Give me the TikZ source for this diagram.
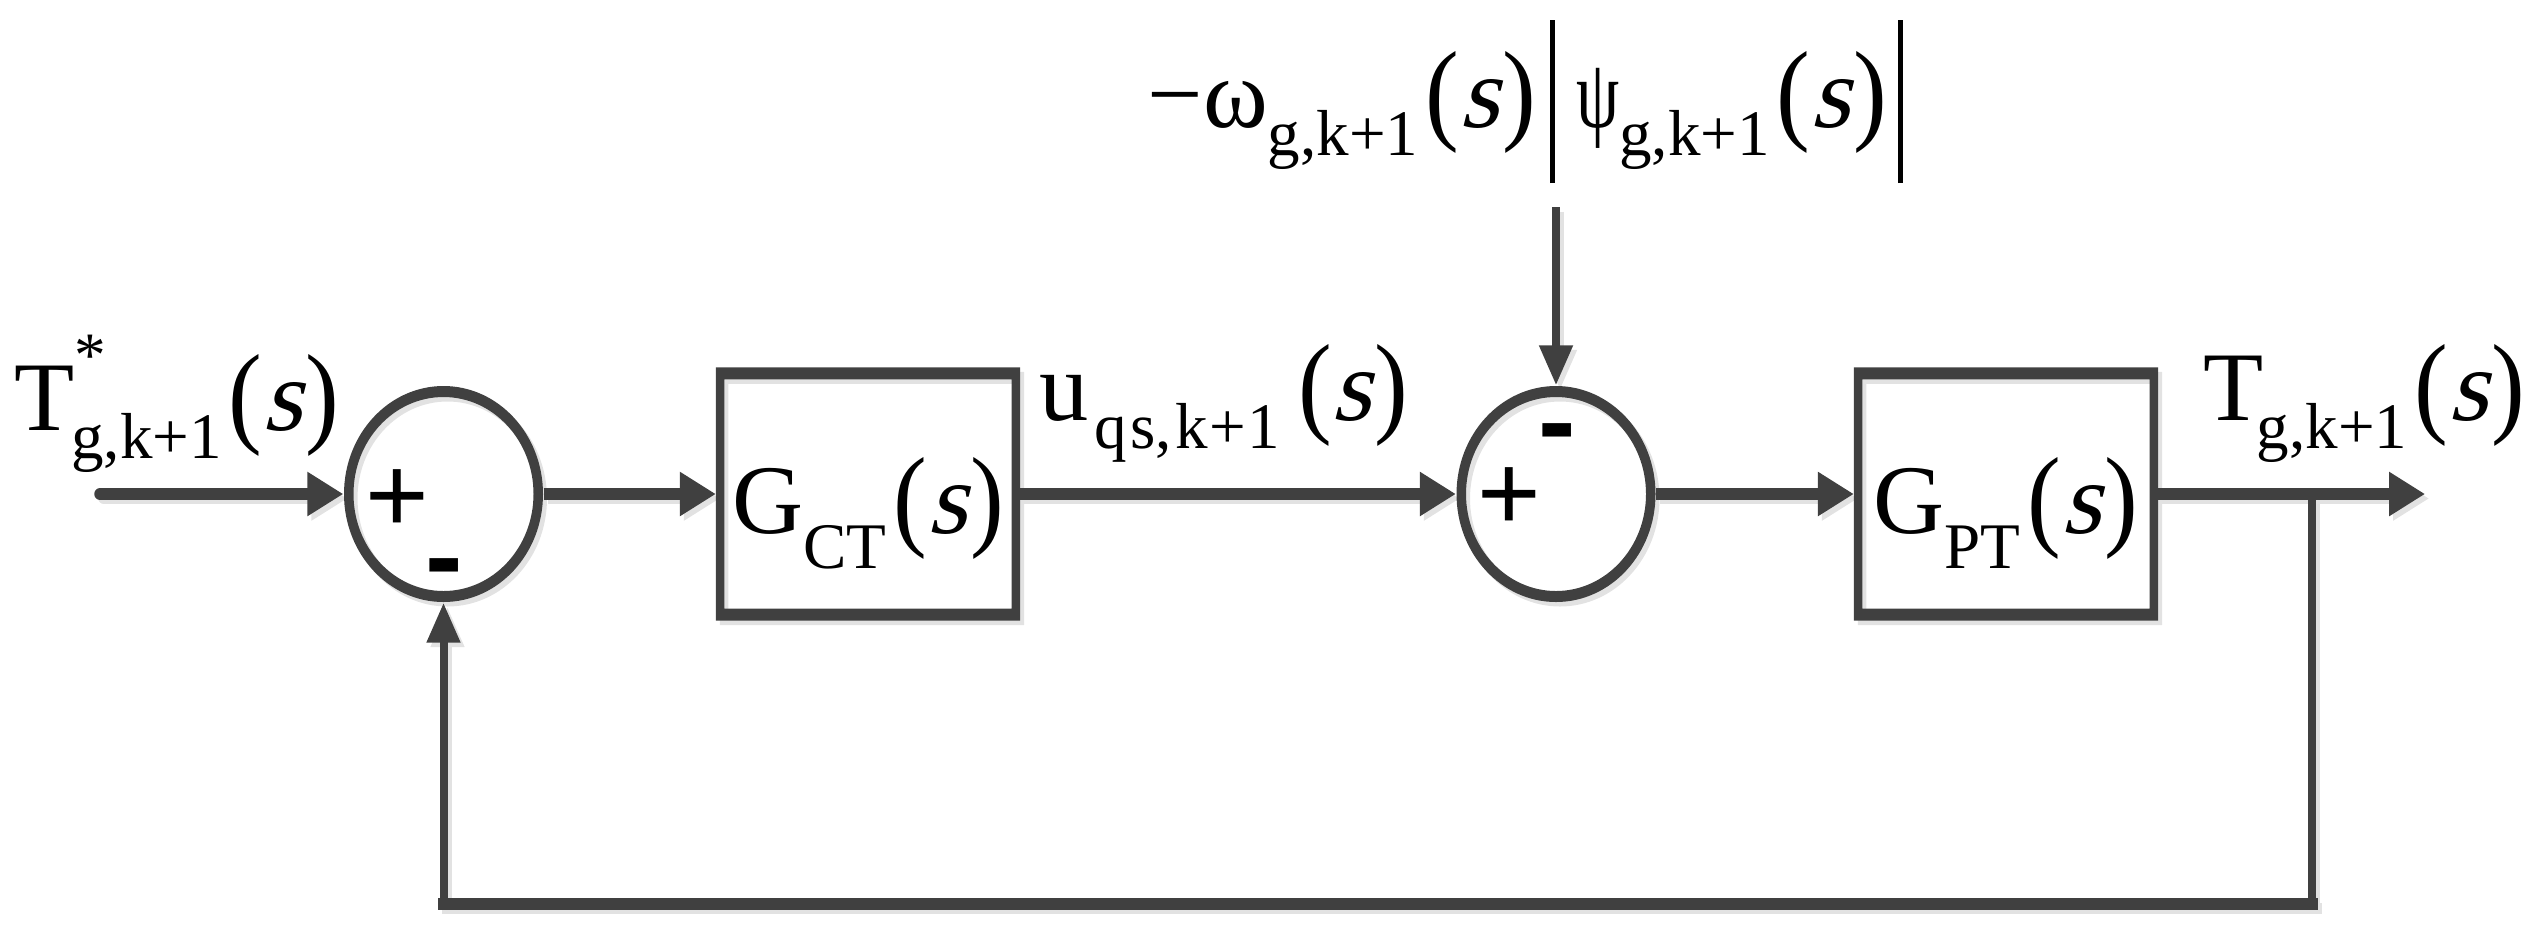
\documentclass[tikz,border=0pt]{standalone}
\usepackage{graphicx}
\usepackage{fontspec}
\setmainfont{Liberation Serif}
\newfontfamily\sitfont{Liberation Serif}[FakeSlant=0.25]
\newfontfamily\signfont{Liberation Sans}
\usetikzlibrary{arrows.meta,shapes.geometric,calc}
\definecolor{lg}{HTML}{404040}
\definecolor{sh}{HTML}{E2E2E2}
\newcommand{\MyM}{\fontsize{28}{28}\selectfont}
\newcommand{\MySb}[1]{\raisebox{-8pt}{\fontsize{18.5}{18.5}\selectfont #1}}
\newcommand{\MySbL}[1]{\raisebox{-10pt}{\fontsize{18.5}{18.5}\selectfont #1}}
\newcommand{\MyPr}[1]{\raisebox{-0.8pt}{\scalebox{0.9}[1]{\fontsize{32}{32}\selectfont #1}}}
\newcommand{\MyPs}{\kern2pt\MyPr{(}{\sitfont\fontsize{29}{29}\selectfont s}\kern1pt\MyPr{)}}
\newcommand{\MyVBar}[2]{\kern#1\rule[-16pt]{1.4pt}{46.4pt}\kern#2}
\newcommand{\ellring}[2]{\fill[#2, even odd rule] (#1.center) ellipse [x radius=0.995, y radius=1.08] (#1.center) ellipse [x radius=0.90, y radius=0.97];}
\newcommand{\boxring}[2]{\fill[#2, even odd rule] (#1.south west) rectangle (#1.north east) ([shift={(0.085,0.12)}]#1.south west) rectangle ([shift={(-0.085,-0.12)}]#1.north east);}
\newcommand{\drawall}[1]{%
  \ellring{s1}{#1}\ellring{s2}{#1}\boxring{b1}{#1}\boxring{b2}{#1}%
  \draw[harr, draw=#1, fill=#1, line cap=round] (in) -- (s1.west);
  \draw[harr, draw=#1, fill=#1] (s1.east) -- (b1.west);
  \draw[harr, draw=#1, fill=#1] (b1.east) -- (s2.west);
  \draw[harr, draw=#1, fill=#1] (s2.east) -- (b2.west);
  \draw[harr, draw=#1, fill=#1] (b2.east) -- (out);
  \draw[varr, draw=#1, fill=#1] (dtop) -- (s2.north);
  \draw[vl, draw=#1] (br) -- (bot);
  \draw[hl, draw=#1, line cap=rect] (bot) -- (botl);
  \draw[varr, draw=#1, fill=#1] (botl) -- (s1.south);
}
\begin{document}
\begin{tikzpicture}[
  x=1cm,y=1cm,
  hl/.style={draw=lg, line width=0.115cm},
  vl/.style={draw=lg, line width=0.08cm},
  harr/.style={hl, -{Triangle[length=0.36cm,width=0.42cm]}},
  varr/.style={vl, -{Triangle[length=0.40cm,width=0.32cm]}},
  sumn/.style={ellipse, minimum width=1.99cm, minimum height=2.16cm, inner sep=0pt},
  blk/.style={rectangle, minimum width=3.03cm, minimum height=2.52cm, inner sep=0pt},
  lab/.style={anchor=base west, inner sep=0pt, font=\MyM},
  blab/.style={anchor=base, inner sep=0pt, font=\MyM},
  sgn/.style={anchor=base, inner sep=0pt, text=black, text height=0.6em, text depth=0pt, font=\signfont\fontsize{31}{31}\selectfont},
  sgnm/.style={anchor=base, inner sep=0pt, text=black, text height=0.36em, text depth=0pt, font=\signfont\bfseries\fontsize{32}{32}\selectfont},
]
\useasboundingbox (0,0) rectangle (25.35,9.31);
% nodes
\node[sumn] (s1) at (4.435,4.37) {};
\node[sumn] (s2) at (15.56,4.37) {};
\node[blk] (b1) at (8.68,4.37) {};
\node[blk] (b2) at (20.06,4.37) {};
\coordinate (in) at (1.00,4.37);
\coordinate (out) at (24.25,4.37);
\coordinate (br) at (23.12,4.37);
\coordinate (bot) at (23.12,0.27);
\coordinate (botl) at (s1.south |- bot);
\coordinate (dtop) at (15.56,7.24);
% shadows
\begin{scope}[transform canvas={shift={(0.04,-0.045)}}]
\drawall{sh}
\end{scope}
% main drawing
\drawall{lg}
% block texts
\node[blab] (gct) at (8.68,3.98) {G\MySbL{CT}\MyPs};
\node[blab] (gpt) at (20.06,3.98) {G\MySbL{PT}\MyPs};
% signs
\node[sgn] (p1) at (3.975,3.99) {+};
\node[sgnm] (m1) at (4.445,3.37) {-};
\node[sgnm] (m2) at (15.575,4.72) {-};
\node[sgn] (p2) at (15.095,4.01) {+};
% labels
\node[lab] (lT) at (0.14,5.01) {T\kern-1pt\rlap{\raisebox{15.3pt}{\fontsize{18}{18}\selectfont\kern1pt *}}\MySb{g,k+1}\MyPs};
\node[lab] (lu) at (10.39,5.11) {u\kern1.5pt\MySb{q\kern1pt s,\kern1pt k\kern0.5pt+\kern0.5pt1}\kern3pt\MyPs};
\node[lab] (lo) at (22.03,5.11) {T\kern-2pt\MySb{g,k+1}\MyPs};
\node[lab] (lw) at (11.47,8.04) {−ω\MySb{g,k+1}\MyPs\MyVBar{4pt}{6pt}\scalebox{0.7}[1]{ψ}\MySb{g,k+1}\MyPs\MyVBar{3pt}{0pt}};
\end{tikzpicture}
\end{document}
